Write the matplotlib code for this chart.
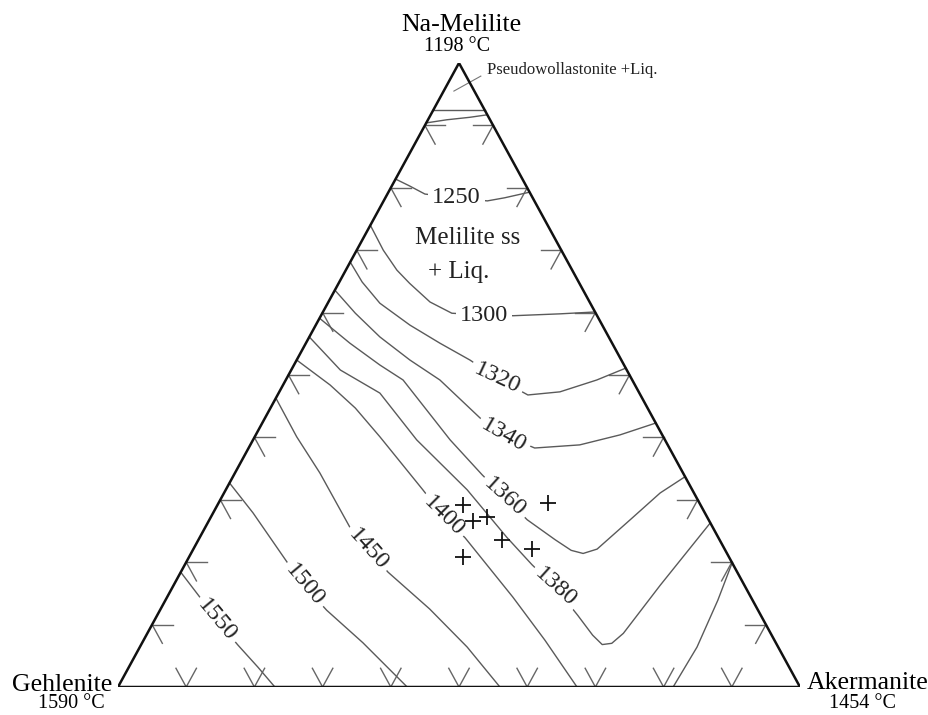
import numpy as np
import matplotlib.pyplot as plt

plt.rcParams['font.family'] = ['Liberation Serif', 'DejaVu Serif']

# compositions in % as (Akermanite, Na-Melilite); Gehlenite is the remainder
iso_1250 = [(0, 81.4), (2.6, 80.3), (5.5, 79.0), (10.4, 78.4), (15.2, 77.9), (17.5, 78.4), (20.7, 79.3)]
iso_1300 = [(0, 74.0), (3.9, 70.0), (7.5, 66.8), (10.4, 64.7), (14.9, 61.7), (19.0, 59.9), (23.9, 59.6),
            (28.2, 59.5), (34.9, 59.8), (39.9, 60.1)]
iso_1320 = [(0, 68.1), (3.35, 64.9), (7.65, 61.5), (13.8, 58.0), (19.65, 55.1), (25.4, 52.4),
            (30.85, 49.5), (36.7, 46.8), (41.15, 47.3), (45.6, 49.2), (48.9, 51.1)]
iso_1340 = [(0, 63.6), (4.85, 59.9), (10.35, 56.1), (16.6, 52.4), (22.6, 49.2), (31.55, 43.1),
            (36.4, 40.4), (41.95, 38.3), (48.3, 38.8), (53.4, 40.4), (57.7, 42.3)]
iso_1360 = [(0, 59.1), (6.45, 55.1), (12.6, 51.6), (17.2, 49.2), (28.9, 39.6), (36.4, 34.0),
            (41.5, 30.4), (46.6, 26.8), (52.3, 23.6), (55.5, 21.9), (57.5, 21.4), (59.2, 22.1),
            (61.7, 26.8), (63.95, 31.1), (66.3, 33.7)]
iso_1380 = [(0, 56.1), (7.2, 50.8), (14.85, 47.1), (24.0, 39.6), (35.4, 31.6), (45.0, 24.0),
            (50.9, 19.6), (56.1, 16.0), (61.65, 11.5), (65.45, 8.3), (67.6, 6.8), (68.9, 7.0),
            (69.8, 8.6), (71.35, 16.3), (73.7, 26.3)]
iso_1400 = [(0, 52.4), (6.9, 48.4), (12.45, 44.7), (18.35, 40.1), (28.9, 31.6), (34.0, 27.4),
            (38.95, 23.9), (50.7, 14.4), (58.85, 7.5), (67.3, 0)]
iso_1400b = [(81.4, 0), (81.7, 6.4), (81.0, 13.9), (80.1, 19.9)]
iso_1450 = [(0, 46.3), (6.15, 40.1), (12.45, 34.3), (21.2, 25.6), (25.6, 22.1), (30.4, 18.4),
            (39.45, 12.5), (48.0, 6.4), (56.0, 0)]
iso_1500 = [(0, 32.7), (5.85, 27.9), (14.8, 20.0), (19.15, 16.3), (24.45, 12.3), (32.35, 7.1), (42.4, 0)]
iso_1550 = [(0, 18.4), (4.8, 14.4), (9.15, 10.7), (14.25, 6.7), (18.9, 3.2), (23.0, 0)]

# boundaries near the Na-Melilite corner
pwo_line = [(0, 92.5), (7.5, 92.5)]
top_curve = [(0, 90.4), (2.75, 90.9), (5.95, 91.3), (8.3, 91.7)]
pwo_leader = [(1.5, 95.5), (4.25, 97.9)]

iso_labels = ['1250', '1300', '1320', '1340', '1360', '1380', '1400', '1450', '1500', '1550']
label_comp = [(10.4, 78.4), (23.9, 59.6), (30.85, 49.5), (36.4, 40.4), (41.5, 30.4),
              (56.1, 16.0), (34.0, 27.4), (25.6, 22.1), (19.15, 16.3), (9.15, 10.7)]
label_rot = [0, 0, -25, -30, -42, -42, -45, -48, -50, -50]

samples = [(36.0, 29.2), (38.75, 26.6), (40.5, 27.2), (44.5, 23.6), (49.65, 22.1), (40.2, 20.8), (48.3, 29.5)]


def tern(points):
    p = np.asarray(points, dtype=float) / 100.0
    a, n = p[:, 0], p[:, 1]
    return a + n / 2, n


fig = plt.figure(figsize=(9.29, 7.15), dpi=100)
ax = fig.add_axes([118 / 929, 28 / 715, 682 / 929, 624 / 715])
ax.set_xlim(0, 1)
ax.set_ylim(0, 1)
ax.axis('off')

# triangle
ax.plot([0, 1, 0.5, 0], [0, 0, 1, 0], color='#111111', lw=1.8, solid_joinstyle='miter', zorder=3)

# edge ticks every 10 %
tl = 3.0
tick_col = '#666666'
for k in range(1, 10):
    v = 10 * k
    segs = [
        [(v, 0), (v, tl)], [(v, 0), (v - tl, tl)],                  # bottom
        [(0, v), (tl, v)], [(0, v), (tl, v - tl)],                  # left
        [(100 - v, v), (100 - v - tl, v)], [(100 - v, v), (100 - v, v - tl)],  # right
    ]
    for s in segs:
        x, y = tern(s)
        ax.plot(x, y, color=tick_col, lw=1.0, zorder=2)

iso_lines = [iso_1250, iso_1300, iso_1320, iso_1340, iso_1360, iso_1380, iso_1400,
             iso_1400b, iso_1450, iso_1500, iso_1550, pwo_line, top_curve]
for line in iso_lines:
    x, y = tern(line)
    ax.plot(x, y, color='#5a5a5a', lw=1.0, zorder=2, solid_joinstyle='round')

for txt, pos, rot in zip(iso_labels, label_comp, label_rot):
    x, y = tern([pos])
    ax.text(x[0], y[0], txt, fontsize=17.5, rotation=rot, rotation_mode='anchor',
            ha='center', va='center', color='#222222', zorder=4,
            bbox=dict(facecolor='white', edgecolor='none', pad=3))

sx, sy = tern(samples)
ax.plot(sx, sy, '+', color='#111111', ms=11, mew=1.3, zorder=5)

# field labels
ax.text(0.513, 0.72, 'Melilite ss', fontsize=18, ha='center', va='center', color='#222222')
ax.text(0.499, 0.665, '+ Liq.', fontsize=18, ha='center', va='center', color='#222222')

lx, ly = tern(pwo_leader)
ax.plot(lx, ly, color='#777777', lw=0.8, clip_on=False)
ax.text(0.541, 0.989, 'Pseudowollastonite +Liq.', fontsize=12, ha='left', va='center', color='#222222')

# corner labels
ax.text(0.504, 1.061, 'Na-Melilite', fontsize=18.5, ha='center', va='center', clip_on=False)
ax.text(0.497, 1.026, '1198 °C', fontsize=14.5, ha='center', va='center', clip_on=False)
ax.text(-0.009, 0.003, 'Gehlenite', fontsize=18.5, ha='right', va='center', clip_on=False)
ax.text(-0.069, -0.027, '1590 °C', fontsize=14.5, ha='center', va='center', clip_on=False)
ax.text(1.010, 0.006, 'Akermanite', fontsize=18.5, ha='left', va='center', clip_on=False)
ax.text(1.091, -0.027, '1454 °C', fontsize=14.5, ha='center', va='center', clip_on=False)

fig.savefig('out.png', dpi=100, facecolor='white')
